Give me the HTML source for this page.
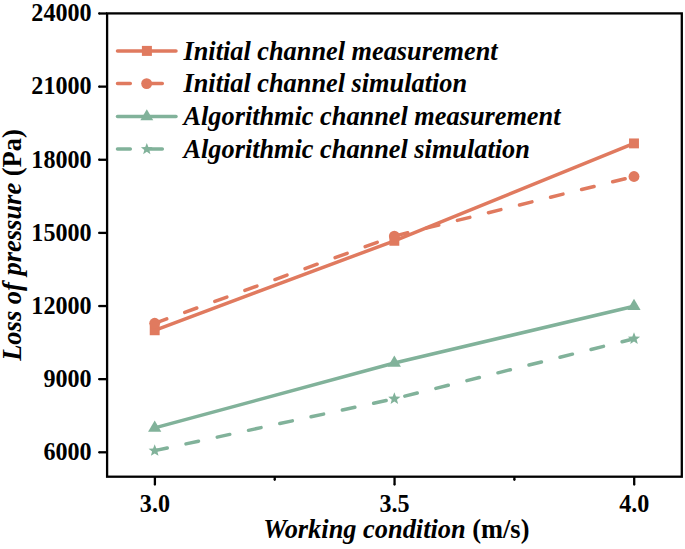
<!DOCTYPE html>
<html><head><meta charset="utf-8"><style>
html,body{margin:0;padding:0;background:#fff;overflow:hidden;}
svg{display:block;}
text{font-family:"Liberation Serif",serif;font-weight:bold;fill:#000;}
.tk{font-size:24.6px;}
.leg{font-size:26.3px;font-style:italic;}
.lab{font-size:27.8px;}
</style></head><body>
<svg width="685" height="549" viewBox="0 0 685 549">
<rect width="685" height="549" fill="#fff"/>
<polyline points="154.70,330.29 394.35,240.80 634.00,143.41" fill="none" stroke="#E07A5F" stroke-width="3.5" stroke-linecap="round" stroke-linejoin="round"/>
<polyline points="154.70,323.30 394.35,236.10 634.00,176.49" fill="none" stroke="#E07A5F" stroke-width="3.5" stroke-linecap="round" stroke-linejoin="round" stroke-dasharray="12.8 19.2"/>
<polyline points="154.70,427.93 394.35,362.98 634.00,306.30" fill="none" stroke="#81B29A" stroke-width="3.5" stroke-linecap="round" stroke-linejoin="round"/>
<polyline points="154.70,450.65 394.35,398.79 634.00,338.75" fill="none" stroke="#81B29A" stroke-width="3.5" stroke-linecap="round" stroke-linejoin="round" stroke-dasharray="12.8 19.2"/>
<rect x="149.75" y="325.34" width="9.9" height="9.9" fill="#E07A5F"/>
<rect x="389.40" y="235.85" width="9.9" height="9.9" fill="#E07A5F"/>
<rect x="629.05" y="138.46" width="9.9" height="9.9" fill="#E07A5F"/>
<circle cx="154.70" cy="323.30" r="5.45" fill="#E07A5F"/>
<circle cx="394.35" cy="236.10" r="5.45" fill="#E07A5F"/>
<circle cx="634.00" cy="176.49" r="5.45" fill="#E07A5F"/>
<polygon points="154.70,420.39 148.10,431.69 161.30,431.69" fill="#81B29A"/>
<polygon points="394.35,355.45 387.75,366.75 400.95,366.75" fill="#81B29A"/>
<polygon points="634.00,298.77 627.40,310.07 640.60,310.07" fill="#81B29A"/>
<polygon points="154.70,444.20 156.32,448.42 160.83,448.65 157.32,451.50 158.49,455.86 154.70,453.40 150.91,455.86 152.08,451.50 148.57,448.65 153.08,448.42" fill="#81B29A"/>
<polygon points="394.35,392.34 395.97,396.57 400.48,396.80 396.97,399.64 398.14,404.01 394.35,401.54 390.56,404.01 391.73,399.64 388.22,396.80 392.73,396.57" fill="#81B29A"/>
<polygon points="634.00,332.30 635.62,336.53 640.13,336.76 636.62,339.60 637.79,343.97 634.00,341.50 630.21,343.97 631.38,339.60 627.87,336.76 632.38,336.53" fill="#81B29A"/>
<line x1="117.5" y1="50.9" x2="176" y2="50.9" stroke="#E07A5F" stroke-width="3.5" stroke-linecap="round"/>
<rect x="141.90" y="45.90" width="10" height="10" fill="#E07A5F"/>
<line x1="117.5" y1="83.6" x2="176" y2="83.6" stroke="#E07A5F" stroke-width="3.5" stroke-linecap="round" stroke-dasharray="12.8 19.2"/>
<circle cx="146.65" cy="83.60" r="5.45" fill="#E07A5F"/>
<line x1="117.5" y1="116.4" x2="176" y2="116.4" stroke="#81B29A" stroke-width="3.5" stroke-linecap="round"/>
<polygon points="146.80,109.27 140.35,120.27 153.25,120.27" fill="#81B29A"/>
<line x1="117.5" y1="148.9" x2="176" y2="148.9" stroke="#81B29A" stroke-width="3.5" stroke-linecap="round" stroke-dasharray="12.8 19.2"/>
<polygon points="146.80,143.00 148.36,147.06 152.70,147.28 149.32,150.02 150.44,154.22 146.80,151.85 143.16,154.22 144.28,150.02 140.90,147.28 145.24,147.06" fill="#81B29A"/>
<text transform="translate(183.5,59.5) scale(1.0,1)" class="leg">Initial channel measurement</text>
<text transform="translate(183.5,92.2) scale(1.0,1)" class="leg">Initial channel simulation</text>
<text transform="translate(183.5,125.0) scale(1.0,1)" class="leg">Algorithmic channel measurement</text>
<text transform="translate(183.5,157.5) scale(1.0,1)" class="leg">Algorithmic channel simulation</text>
<rect x="107.1" y="13.4" width="574.6999999999999" height="463.3" fill="none" stroke="#000" stroke-width="2.3"/>
<path d="M107.1 452.30H99.15" stroke="#000" stroke-width="2.3"/><circle cx="99.15" cy="452.30" r="1.15"/>
<text transform="translate(91.6,460.10) scale(0.98,1)" class="tk" text-anchor="end">6000</text>
<path d="M107.1 379.17H99.15" stroke="#000" stroke-width="2.3"/><circle cx="99.15" cy="379.17" r="1.15"/>
<text transform="translate(91.6,386.97) scale(0.98,1)" class="tk" text-anchor="end">9000</text>
<path d="M107.1 306.04H99.15" stroke="#000" stroke-width="2.3"/><circle cx="99.15" cy="306.04" r="1.15"/>
<text transform="translate(91.6,313.84) scale(0.98,1)" class="tk" text-anchor="end">12000</text>
<path d="M107.1 232.90H99.15" stroke="#000" stroke-width="2.3"/><circle cx="99.15" cy="232.90" r="1.15"/>
<text transform="translate(91.6,240.70) scale(0.98,1)" class="tk" text-anchor="end">15000</text>
<path d="M107.1 159.77H99.15" stroke="#000" stroke-width="2.3"/><circle cx="99.15" cy="159.77" r="1.15"/>
<text transform="translate(91.6,167.57) scale(0.98,1)" class="tk" text-anchor="end">18000</text>
<path d="M107.1 86.63H99.15" stroke="#000" stroke-width="2.3"/><circle cx="99.15" cy="86.63" r="1.15"/>
<text transform="translate(91.6,94.43) scale(0.98,1)" class="tk" text-anchor="end">21000</text>
<path d="M107.1 13.50H99.15" stroke="#000" stroke-width="2.3"/><circle cx="99.15" cy="13.50" r="1.15"/>
<text transform="translate(91.6,21.30) scale(0.98,1)" class="tk" text-anchor="end">24000</text>
<path d="M154.90 476.7V484.55" stroke="#000" stroke-width="2.3"/><circle cx="154.90" cy="484.55" r="1.15"/>
<text transform="translate(154.90,511.7) scale(0.98,1)" class="tk" text-anchor="middle">3.0</text>
<path d="M394.55 476.7V484.55" stroke="#000" stroke-width="2.3"/><circle cx="394.55" cy="484.55" r="1.15"/>
<text transform="translate(394.55,511.7) scale(0.98,1)" class="tk" text-anchor="middle">3.5</text>
<path d="M634.20 476.7V484.55" stroke="#000" stroke-width="2.3"/><circle cx="634.20" cy="484.55" r="1.15"/>
<text transform="translate(634.20,511.7) scale(0.98,1)" class="tk" text-anchor="middle">4.0</text>
<path d="M274.73 476.7V479.85" stroke="#000" stroke-width="2.3"/><circle cx="274.73" cy="479.85" r="1.15"/>
<path d="M514.38 476.7V479.85" stroke="#000" stroke-width="2.3"/><circle cx="514.38" cy="479.85" r="1.15"/>
<text transform="translate(396.3,538) scale(0.949,1)" class="lab" text-anchor="middle"><tspan font-style="italic">Working condition</tspan> (m/s)</text>
<text transform="translate(20.8,245) rotate(-90) scale(0.953,1)" class="lab" text-anchor="middle"><tspan font-style="italic">Loss of pressure</tspan> (Pa)</text>
</svg>
</body></html>
